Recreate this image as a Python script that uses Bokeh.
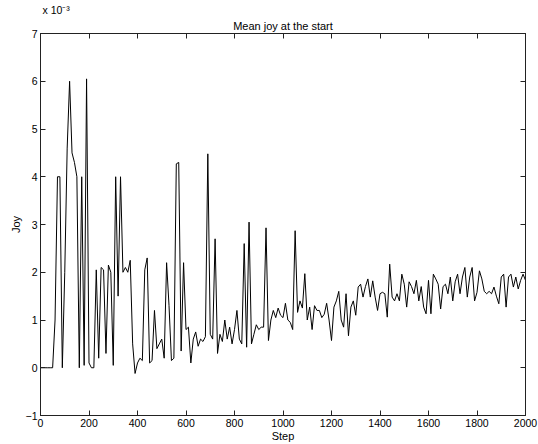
from bokeh.plotting import figure
from bokeh.models import Range1d, LinearAxis, FixedTicker, Title
from bokeh.embed import file_html
from bokeh.resources import INLINE

# Data (Joy values in units of 1e-3), sampled every 10 steps
steps = list(range(0, 2001, 10))
joy = [
    0, 0, 0, 0, 0, 0, 1.0, 4.0, 4.0, 0.0,
    2.0, 4.6, 6.0, 4.5, 4.3, 4.0, 0.0, 4.0, 0.05, 6.05,
    0.1, 0.0, 0.0, 2.05, 0.2, 2.1, 2.05, 0.3, 2.15, 2.0,
    0.05, 4.0, 1.5, 4.0, 2.0, 2.1, 2.0, 2.25, 0.5, -0.12,
    0.1, 0.2, 0.15, 2.05, 2.3, 0.1, 0.15, 1.2, 0.4, 0.5,
    0.6, 0.2, 2.2, 1.3, 0.15, 0.2, 4.27, 4.3, 0.35, 2.2,
    0.8, 0.85, 0.1, 0.6, 0.75, 0.45, 0.6, 0.55, 0.65, 4.48,
    0.7, 0.6, 2.7, 0.3, 0.7, 0.55, 1.0, 0.6, 0.85, 0.5,
    0.8, 1.2, 0.6, 0.5, 2.6, 0.43, 3.05, 0.5, 0.7, 0.9,
    0.8, 0.85, 0.85, 2.93, 0.57, 1.0, 1.2, 1.05, 1.25, 1.1,
    1.05, 1.35, 1.0, 0.95, 0.8, 2.87, 1.16, 1.4, 1.25, 1.97,
    1.0, 1.27, 0.8, 1.3, 1.2, 1.2, 1.05, 1.12, 1.35, 1.0,
    0.57, 1.27, 1.4, 1.6, 1.0, 0.85, 1.55, 0.67, 1.27, 1.4,
    1.1, 1.69, 1.75, 1.48, 1.7, 1.86, 1.48, 1.82, 1.48, 1.2,
    1.55, 1.58, 1.55, 1.06, 2.17, 1.48, 1.4, 1.55, 1.4, 1.96,
    1.75, 1.27, 1.8, 1.7, 1.55, 1.83, 1.4, 1.7, 1.27, 1.13,
    1.83, 1.13, 1.96, 1.86, 1.75, 1.23, 1.7, 1.75, 1.55, 1.9,
    1.4, 1.8, 1.96, 1.55, 1.9, 2.1, 1.48, 1.9, 2.1, 1.4,
    1.58, 2.03, 1.86, 1.6, 1.55, 1.6, 1.55, 1.69, 1.5, 1.34,
    1.9, 1.96, 1.27, 1.9, 1.96, 1.69, 1.9, 1.65, 1.83, 1.96,
    1.83,
]
x_ticks = list(range(0, 2001, 200))
y_ticks = list(range(-1, 8))
title_text = "Mean joy at the start"
scale_text = "x 10\u207b\u00b3"

FONT = "Liberation Sans"
AX_COLOR = "#222222"

p = figure(width=538, height=444, output_backend="svg", toolbar_location=None,
           title=None,
           x_range=Range1d(0, 2000), y_range=Range1d(-1, 7),
           min_border_left=40, min_border_right=13, min_border_top=33,
           min_border_bottom=29, background_fill_color="white",
           border_fill_color="white")

p.xgrid.visible = False
p.ygrid.visible = False
p.outline_line_color = AX_COLOR
p.outline_line_width = 1

p.line(steps, joy, line_color="black", line_width=1)


def style_axis(ax, ticks, show_labels):
    ax.ticker = FixedTicker(ticks=ticks)
    ax.major_tick_in = 5
    ax.major_tick_out = 0
    ax.minor_tick_line_color = None
    ax.axis_line_color = AX_COLOR
    ax.major_tick_line_color = AX_COLOR
    ax.major_label_text_font = FONT
    ax.major_label_text_color = "black"
    if show_labels:
        ax.major_label_text_font_size = "10.5px"
        ax.major_label_standoff = 3
    else:
        ax.major_label_overrides = {t: "" for t in ticks}
        ax.major_label_text_font_size = "1px"
        ax.major_label_standoff = 0


xa = p.xaxis[0]
ya = p.yaxis[0]
style_axis(xa, x_ticks, True)
style_axis(ya, y_ticks, True)
xa.axis_label = "Step"
ya.axis_label = "Joy"
for a in (xa, ya):
    a.axis_label_text_font = FONT
    a.axis_label_text_font_size = "11px"
    a.axis_label_text_font_style = "normal"
    a.axis_label_text_color = "black"
xa.axis_label_standoff = 0
ya.axis_label_standoff = 1

top = LinearAxis()
right = LinearAxis()
style_axis(top, x_ticks, False)
style_axis(right, y_ticks, False)
p.add_layout(top, "above")
p.add_layout(right, "right")

p.add_layout(Title(text=title_text, align="center", text_font=FONT,
                   text_font_size="11px", text_font_style="normal",
                   text_color="black", standoff=4), "above")
p.add_layout(Title(text=scale_text, align="left", offset=2, text_font=FONT,
                   text_font_size="10.5px", text_font_style="normal",
                   text_color="black", standoff=0), "above")

open("out.html", "w").write(file_html(p, INLINE))
